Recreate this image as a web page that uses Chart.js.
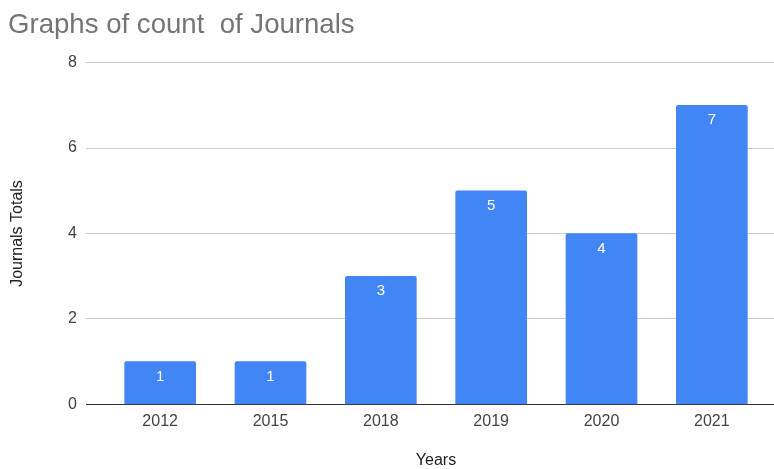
<!DOCTYPE html>
<html>
<head>
<meta charset="utf-8">
<script src="https://cdn.jsdelivr.net/npm/chart.js@4.4.1/dist/chart.umd.min.js"></script>
<style>
  html, body { margin: 0; padding: 0; background: #fff; }
  #wrap { width: 774px; height: 469px; position: relative; }
</style>
</head>
<body>
<div id="wrap"><canvas id="c" width="774" height="469"></canvas></div>
<script>
const chartTitle = "Graphs of count  of Journals";
const xAxisTitle = "Years";
const yAxisTitle = "Journals Totals";
const years = ["2012", "2015", "2018", "2019", "2020", "2021"];
const journalCounts = [1, 1, 3, 5, 4, 7];
const yTicks = [0, 2, 4, 6, 8];

const FONT = "'Liberation Sans', Arial, sans-serif";

const extendGrid = {
  id: 'extendGrid',
  beforeDatasetsDraw(chart) {
    const y = chart.scales.y;
    const ctx = chart.ctx;
    ctx.save();
    y.ticks.forEach(t => {
      const py = Math.round(y.getPixelForValue(t.value) - 0.5) + 0.5;
      ctx.strokeStyle = t.value === 0 ? '#333333' : '#cccccc';
      ctx.lineWidth = 1;
      ctx.beginPath();
      ctx.moveTo(chart.chartArea.right, py);
      ctx.lineTo(chart.width, py);
      ctx.stroke();
    });
    ctx.restore();
  }
};

const barLabels = {
  id: 'barLabels',
  afterDatasetsDraw(chart) {
    const ctx = chart.ctx;
    const meta = chart.getDatasetMeta(0);
    ctx.save();
    ctx.fillStyle = '#ffffff';
    ctx.font = "15px " + FONT;
    ctx.textAlign = 'center';
    ctx.textBaseline = 'middle';
    meta.data.forEach((bar, i) => {
      ctx.fillText(String(journalCounts[i]), bar.x, bar.y + 15);
    });
    ctx.restore();
  }
};

new Chart(document.getElementById('c'), {
  type: 'bar',
  data: {
    labels: years,
    datasets: [{
      data: journalCounts,
      backgroundColor: '#4285f4',
      borderRadius: { topLeft: 2, topRight: 2, bottomLeft: 0, bottomRight: 0 },
      borderSkipped: 'start',
      barThickness: 71
    }]
  },
  options: {
    responsive: false,
    animation: false,
    devicePixelRatio: 1,
    layout: { padding: { left: 8, right: 7, top: 0, bottom: 0 } },
    plugins: {
      legend: { display: false },
      tooltip: { enabled: false },
      title: {
        display: true,
        text: chartTitle,
        align: 'start',
        color: '#757575',
        font: { family: FONT, size: 27.6, weight: 'normal' },
        padding: { top: 9, bottom: 20.5 }
      }
    },
    scales: {
      x: {
        grid: { display: false, drawTicks: false },
        border: { display: false },
        ticks: { color: '#444444', font: { family: FONT, size: 16 }, padding: 8, maxRotation: 0 },
        title: { display: true, text: xAxisTitle, color: '#222222', font: { family: FONT, size: 16, lineHeight: 1 }, padding: { top: 0, bottom: 0 } },
        afterFit(scale) { scale.height = 64.6; }
      },
      y: {
        min: 0,
        max: 8,
        afterBuildTicks(scale) { scale.ticks = yTicks.map(v => ({ value: v })); },
        grid: {
          color: ctx => (ctx.tick && ctx.tick.value === 0) ? '#333333' : '#cccccc',
          tickLength: 19,
          drawTicks: true
        },
        border: { display: false },
        ticks: { color: '#444444', font: { family: FONT, size: 16 }, padding: 9 },
        title: { display: true, text: yAxisTitle, color: '#222222', font: { family: FONT, size: 16 }, padding: { top: 0, bottom: 0 } },
        afterFit(scale) { scale.width = 97; }
      }
    }
  },
  plugins: [extendGrid, barLabels]
});
</script>
</body>
</html>
